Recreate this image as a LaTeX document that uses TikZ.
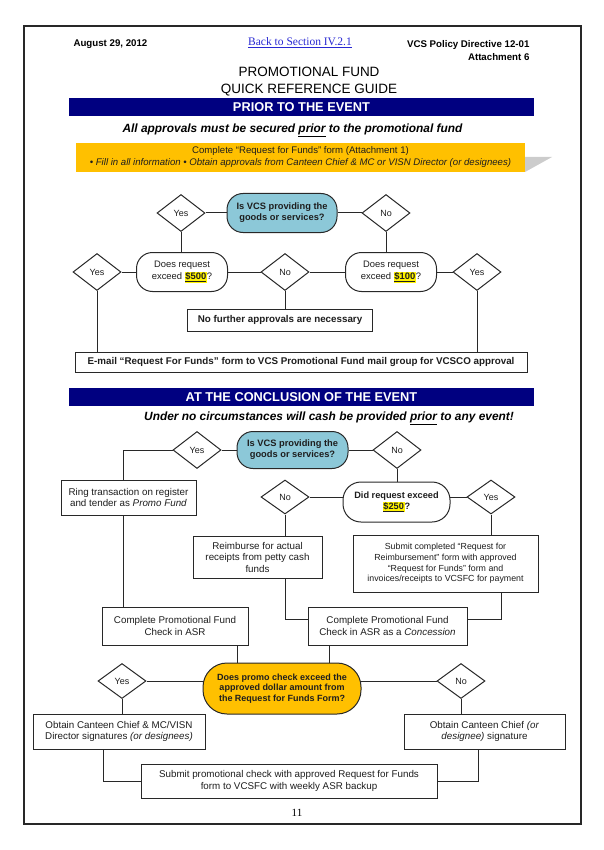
\documentclass[tikz,border=0pt]{standalone}
\usepackage{fontspec}
\setmainfont{Liberation Sans}
\newfontfamily\serifback{Liberation Serif}
\usetikzlibrary{shapes.geometric,backgrounds,calc}
\definecolor{navy}{RGB}{0,0,128}
\definecolor{qblue}{RGB}{140,200,216}
\definecolor{gold}{RGB}{255,192,0}
\definecolor{ink}{RGB}{30,30,30}
\definecolor{linec}{RGB}{40,40,40}
\definecolor{linkblue}{RGB}{40,40,210}
\newcommand{\fs}[2]{\fontsize{#1}{#2}\selectfont}
\newcommand{\hlamt}[1]{{\setlength{\fboxsep}{0.6pt}\colorbox{yellow}{\bfseries\underline{#1}}}}
\begin{document}
\begin{tikzpicture}[x=1pt,y=-1pt,
  box/.style={draw=linec, line width=1pt, fill=white, rectangle, inner sep=1pt, align=center, text=ink},
  txtA/.style={font=\fs{9.8}{11.5}},
  dia/.style={draw=linec, line width=1pt, fill=white, diamond, minimum width=48pt, minimum height=37pt, inner sep=0pt, text=ink, font=\fs{9}{10}},
  pill/.style={draw=linec, line width=1pt, rectangle, rounded corners=16pt, align=center, text=ink, inner sep=1pt},
  conn/.style={draw=linec, line width=1pt}]
\useasboundingbox (0,0) rectangle (604,850);
\draw[line width=1.4pt, linec] (24,26) rectangle (581,824);
% header
\node[anchor=west, font=\bfseries\fs{9.7}{11}] (date) at (70,44) {August 29, 2012};
\node[font=\serifback\fs{11.5}{13}, text=linkblue] (back) at (300,43) {\underline{Back to Section IV.2.1}};
\node[anchor=east, font=\bfseries\fs{9.7}{13}, align=right] (vcs) at (533,50.5) {VCS Policy Directive 12-01\\Attachment 6};
\node[font=\fs{13.5}{17}, align=center] (title) at (309,81.5) {PROMOTIONAL FUND\\QUICK REFERENCE GUIDE};
% section 1
\fill[navy] (69,98) rectangle (534,116);
\node[text=white, font=\bfseries\fs{12.8}{14}] (bar1) at (301.5,107) {PRIOR TO THE EVENT};
\node[font=\bfseries\itshape\fs{11.9}{13}] (allapp) at (292.5,130) {All approvals must be secured \underline{prior} to the promotional fund};
\fill[gray!40] (525,157) -- (552,157) -- (525,172) -- cycle;
\node[fill=gold, minimum width=449pt, minimum height=29pt, inner sep=0pt, align=center, text=ink, font=\fs{9.6}{12}] (req) at (300.5,157.5) {Complete “Request for Funds” form (Attachment 1)\\{\itshape • Fill in all information • Obtain approvals from Canteen Chief \& MC or VISN Director (or designees)}};
\node[dia] (yes1) at (181,213) {Yes};
\node[pill, fill=qblue, minimum width=110pt, minimum height=39pt, font=\bfseries\fs{9.3}{11.2}] (q1) at (282,213) {Is VCS providing the\\goods or services?};
\node[dia] (no1) at (386,213) {No};
\node[pill, fill=white, minimum width=91pt, minimum height=39pt, font=\fs{9.4}{11.5}] (q500) at (182,272) {Does request\\exceed \hlamt{\$500}?};
\node[dia] (yesL) at (97,272) {Yes};
\node[dia] (noM) at (285,272) {No};
\node[pill, fill=white, minimum width=91pt, minimum height=39pt, font=\fs{9.4}{11.5}] (q100) at (391,272) {Does request\\exceed \hlamt{\$100}?};
\node[dia] (yesR) at (477,272) {Yes};
\node[box, minimum width=185pt, minimum height=22pt, font=\bfseries\fs{9.8}{11}] (nof) at (280,320) {No further approvals are necessary};
\node[box, minimum width=452pt, minimum height=20pt, font=\bfseries\fs{9.8}{11}] (email) at (301,362) {E-mail “Request For Funds” form to VCS Promotional Fund mail group for VCSCO approval};
% section 2
\fill[navy] (69,388) rectangle (534,406);
\node[text=white, font=\bfseries\fs{12.8}{14}] (bar2) at (301.5,397) {AT THE CONCLUSION OF THE EVENT};
\node[font=\bfseries\itshape\fs{11.9}{13}] (under) at (329,418) {Under no circumstances will cash be provided \underline{prior} to any event!};
\node[dia] (yes2) at (197,450) {Yes};
\node[pill, fill=qblue, minimum width=111pt, minimum height=37pt, font=\bfseries\fs{9.3}{11.2}] (q2) at (292.5,450) {Is VCS providing the\\goods or services?};
\node[dia] (no2) at (397,450) {No};
\node[box, txtA, minimum width=135pt, minimum height=35pt] (ring) at (128.5,497.5) {Ring transaction on register\\and tender as \textit{Promo Fund}};
\node[dia, minimum height=34pt] (no3) at (285,497) {No};
\node[pill, fill=white, rounded corners=18pt, minimum width=107pt, minimum height=40pt, font=\bfseries\fs{9.2}{11}] (q250) at (396.5,502) {Did request exceed\\\hlamt{\$250}?};
\node[dia, minimum height=34pt] (yes3) at (491,497) {Yes};
\node[box, txtA, minimum width=129pt, minimum height=42pt] (reimb) at (257.5,557) {Reimburse for actual\\receipts from petty cash\\funds};
\node[box, font=\fs{8.8}{10.8}, minimum width=185pt, minimum height=57pt] (submit) at (445.5,563.5) {Submit completed “Request for\\Reimbursement” form with approved\\“Request for Funds” form and\\invoices/receipts to VCSFC for payment};
\node[box, txtA, minimum width=146pt, minimum height=38pt] (cpf) at (175,626) {Complete Promotional Fund\\Check in ASR};
\node[box, txtA, minimum width=159pt, minimum height=38pt] (conc) at (387.5,626) {Complete Promotional Fund\\Check in ASR as a \textit{Concession}};
\node[pill, fill=gold, rounded corners=24pt, minimum width=158pt, minimum height=51pt, font=\bfseries\fs{9}{10.8}] (orange2) at (282,688.5) {Does promo check exceed the\\approved dollar amount from\\the Request for Funds Form?};
\node[dia, minimum height=35pt] (yes4) at (122,681) {Yes};
\node[dia, minimum height=35pt] (no4) at (461,681) {No};
\node[box, txtA, minimum width=172pt, minimum height=35pt] (mc) at (119,731.5) {Obtain Canteen Chief \& MC/VISN\\Director signatures \textit{(or designees)}};
\node[box, txtA, minimum width=161pt, minimum height=35pt] (cc) at (484.5,731.5) {Obtain Canteen Chief \textit{(or}\\\textit{designee)} signature};
\node[box, txtA, minimum width=296pt, minimum height=34pt] (subp) at (289,781) {Submit promotional check with approved Request for Funds\\form to VCSFC with weekly ASR backup};
\node[font=\serifback\fs{11}{13}] (pg) at (297,813) {11};
\begin{scope}[on background layer]
\draw[conn] (yes1) -- (q1);
\draw[conn] (q1) -- (no1);
\draw[conn] (yes1.south) -- (yes1.south |- q500.north);
\draw[conn] (no1.south) -- (no1.south |- q100.north);
\draw[conn] (yesL) -- (q500);
\draw[conn] (q500) -- (noM);
\draw[conn] (noM) -- (q100);
\draw[conn] (q100) -- (yesR);
\draw[conn] (noM.south) -- (noM.south |- nof.north);
\draw[conn] (yesL.south) -- (yesL.south |- email.north);
\draw[conn] (yesR.south) -- (yesR.south |- email.north);
\draw[conn] (yes2) -- (q2);
\draw[conn] (q2) -- (no2);
\draw[conn] (yes2.west) -| ([xshift=-5.5pt]ring.north);
\draw[conn] (no2.south) -- (no2.south |- q250.north);
\draw[conn] (no3.east) -- (no3.east -| q250.center);
\draw[conn] (yes3.west) -- (yes3.west -| q250.center);
\draw[conn] (no3.south) -- (no3.south |- reimb.north);
\draw[conn] (yes3.south) -- (yes3.south |- submit.north);
\draw[conn] ([xshift=-5.5pt]ring.south) -- ([xshift=-5.5pt]ring.south |- cpf.north);
\draw[conn] ([xshift=27.5pt]reimb.south) |- ([yshift=7pt]conc.west);
\draw[conn] ([xshift=55.5pt]submit.south) |- ([yshift=7pt]conc.east);
\draw[conn] ([xshift=62pt]cpf.south) -- ([xshift=62pt]cpf.south |- orange2.north);
\draw[conn] ([xshift=-58.5pt]conc.south) -- ([xshift=-58.5pt]conc.south |- orange2.north);
\draw[conn] (yes4.east) -- (yes4.east -| orange2.center);
\draw[conn] (no4.west) -- (no4.west -| orange2.center);
\draw[conn] (yes4.south) -- (yes4.south |- mc.north);
\draw[conn] (no4.south) -- (no4.south |- cc.north);
\draw[conn] ([xshift=-16pt]mc.south) |- (subp.west);
\draw[conn] ([xshift=-6.5pt]cc.south) |- (subp.east);
\end{scope}
\end{tikzpicture}
\end{document}
